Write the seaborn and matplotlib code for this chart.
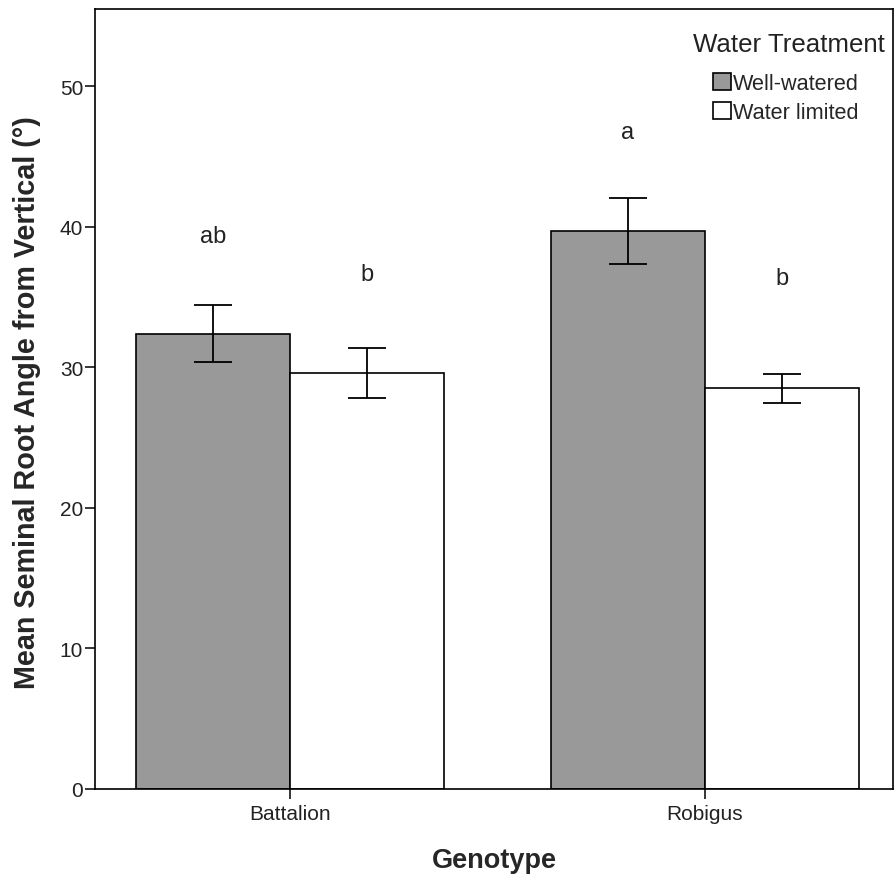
import matplotlib
matplotlib.use("Agg")
import matplotlib.pyplot as plt
import seaborn as sns
import pandas as pd

genotypes = ["Battalion", "Robigus"]
treatments = ["Well-watered", "Water limited"]
mean_ww = [32.4, 39.7]
mean_wl = [29.6, 28.5]
err_ww = [2.03, 2.35]
err_wl = [1.8, 1.02]
letters_ww = ["ab", "a"]
letters_wl = ["b", "b"]
letter_y_ww = [38.9, 46.3]
letter_y_wl = [36.2, 35.9]


def main():
    sns.set_style("ticks")
    plt.rcParams['font.family'] = ['Liberation Sans', 'DejaVu Sans']

    df = pd.DataFrame({
        "Genotype": genotypes * 2,
        "Treatment": [treatments[0]] * 2 + [treatments[1]] * 2,
        "Angle": mean_ww + mean_wl,
    })

    fig, ax = plt.subplots(figsize=(8.96, 8.79), dpi=100)
    fig.subplots_adjust(left=0.106, right=0.9967, bottom=0.1013, top=0.9886)

    sns.barplot(data=df, x="Genotype", y="Angle", hue="Treatment",
                hue_order=treatments, order=genotypes,
                palette=["#999999", "#ffffff"], edgecolor="black",
                linewidth=1.2, width=0.742, gap=0, errorbar=None,
                saturation=1, ax=ax)

    errs = [err_ww, err_wl]
    letters = [letters_ww, letters_wl]
    letter_y = [letter_y_ww, letter_y_wl]
    bar_groups = list(ax.containers)  # copy, errorbar adds containers
    for i, cont in enumerate(bar_groups):
        for j, bar in enumerate(cont):
            x = bar.get_x() + bar.get_width() / 2
            ax.errorbar(x, bar.get_height(), yerr=errs[i][j], fmt="none",
                        ecolor="black", elinewidth=1.3, capsize=13.5,
                        capthick=1.3)
            ax.text(x, letter_y[i][j], letters[i][j], ha="center",
                    va="baseline", fontsize=17, color="#222222")

    ax.set_xlim(-0.47, 1.453)
    ax.set_ylim(0, 55.5)
    ax.set_yticks([0, 10, 20, 30, 40, 50])
    for s in ax.spines.values():
        s.set_visible(True)
        s.set_color("black")
        s.set_linewidth(1.2)
    ax.tick_params(axis="both", length=7, width=1.1, color="black",
                   labelsize=15, labelcolor="#222222")
    ax.tick_params(axis="y", pad=1.5)
    ax.tick_params(axis="x", pad=4)

    ax.set_xlabel("Genotype", fontsize=19.5, fontweight="bold")
    ax.set_ylabel("Mean Seminal Root Angle from Vertical (°)", fontsize=20.7,
                  fontweight="bold")
    ax.xaxis.set_label_coords(0.5, -0.074)
    ax.yaxis.set_label_coords(-0.068, 0.497)

    # legend title drawn on its own so the gap to the entries matches
    ax.text(0.8697, 0.9551, "Water Treatment", transform=ax.transAxes,
            ha="center", va="center", fontsize=18.6, color="#222222")
    ax.legend(frameon=False, loc="center", bbox_to_anchor=(0.866, 0.8859),
              borderaxespad=0, borderpad=0, fontsize=15.6,
              handlelength=0.8, handleheight=0.8, handletextpad=0.1,
              labelspacing=0.35)

    fig.savefig("out.png", dpi=100)


if __name__ == "__main__":
    main()
